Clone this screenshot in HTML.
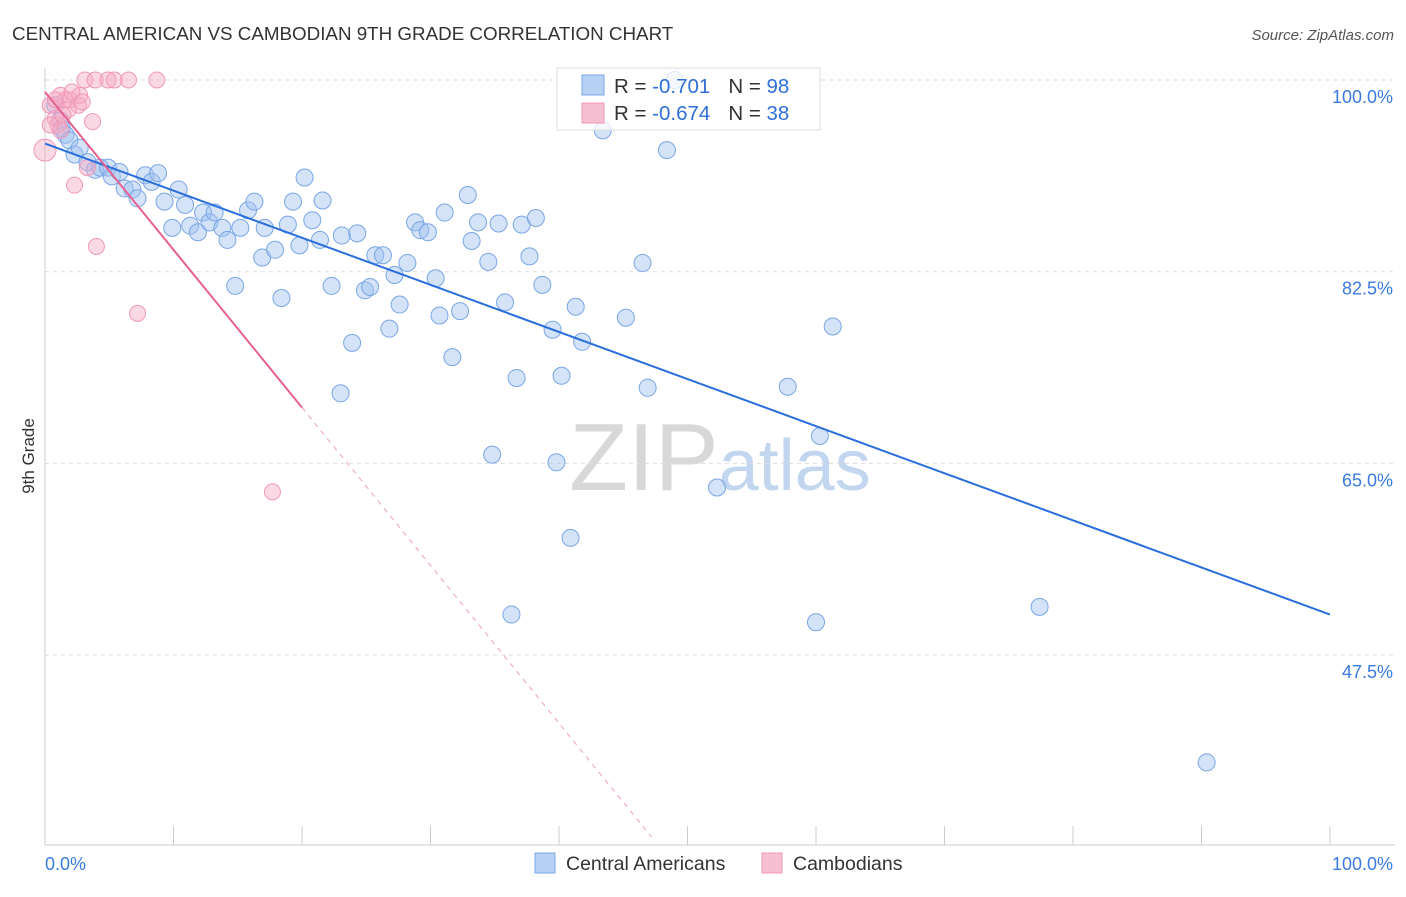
<!DOCTYPE html>
<html><head><meta charset="utf-8"><style>
body{margin:0;background:#fff;font-family:"Liberation Sans",sans-serif;}
svg text{font-family:"Liberation Sans",sans-serif;}
</style></head><body>
<svg id="chart" width="1406" height="892" xmlns="http://www.w3.org/2000/svg">
<text x="12" y="40" font-size="18.8" fill="#333">CENTRAL AMERICAN VS CAMBODIAN 9TH GRADE CORRELATION CHART</text>
<text x="1394" y="40" font-size="15" fill="#555" font-style="italic" text-anchor="end">Source: ZipAtlas.com</text>
<text x="720" y="490" font-size="96" fill="#d8d8d8" text-anchor="middle" font-family="Liberation Serif">ZIP<tspan fill="#c2d6ef" font-family="Liberation Sans" font-size="72">atlas</tspan></text>
<text transform="translate(34,456) rotate(-90)" font-size="17" fill="#333" text-anchor="middle">9th Grade</text>
<g id="grid"></g><g id="pts"></g><g id="lines"></g>
<g>
<rect x="557" y="68" width="263" height="62" fill="rgba(255,255,255,0.75)" stroke="#ddd"/>
<rect x="582" y="75" width="22" height="20" fill="#b8d0f4" stroke="#7aa6e6"/>
<rect x="582" y="103" width="22" height="20" fill="#f6bfd2" stroke="#ef98b8"/>
<text x="614" y="93" font-size="20.5" fill="#333">R = <tspan fill="#2f6fd8">-0.701</tspan><tspan dx="18">N = </tspan><tspan fill="#2f6fd8">98</tspan></text>
<text x="614" y="120" font-size="20.5" fill="#333">R = <tspan fill="#2f6fd8">-0.674</tspan><tspan dx="18">N = </tspan><tspan fill="#2f6fd8">38</tspan></text>
</g>
<g>
<rect x="535" y="853" width="20" height="20" fill="#b8d0f4" stroke="#7aa6e6"/>
<text x="566" y="870" font-size="19.5" fill="#333">Central Americans</text>
<rect x="762" y="853" width="20" height="20" fill="#f6bfd2" stroke="#ef98b8"/>
<text x="793" y="870" font-size="19.5" fill="#333">Cambodians</text>
</g>
</svg>
<script>
const yTicks=[100,82.5,65,47.5];
const yTickLabels=["100.0%","82.5%","65.0%","47.5%"];
const xTickLabels=["0.0%","100.0%"];
const blueX=[0.8,1.2,1.3,1.6,1.9,2.3,2.7,3.3,3.9,4.3,4.9,5.2,5.8,6.2,6.8,7.2,7.8,8.3,8.8,9.3,9.9,10.4,10.9,11.3,11.9,12.3,12.8,13.2,13.8,14.2,14.8,15.2,15.8,16.3,16.9,17.1,17.9,18.4,18.9,19.3,19.8,20.2,20.8,21.4,21.6,22.3,23.1,23.9,24.3,23.0,24.9,25.3,25.7,26.3,26.8,27.2,27.6,28.2,28.8,29.2,29.8,30.4,30.7,31.1,31.7,32.3,32.9,33.2,33.7,34.5,34.8,35.3,35.8,36.3,36.7,37.1,37.7,38.2,38.7,39.5,39.8,40.2,40.9,41.3,41.8,43.4,45.2,46.5,46.9,48.4,52.3,57.8,60.0,60.3,61.3,77.4,90.4,49.0];
const blueY=[97.7,96.3,95.6,95.0,94.5,93.2,93.8,92.5,91.8,92.0,92.0,91.2,91.6,90.1,90.0,89.2,91.3,90.7,91.5,88.9,86.5,90.0,88.6,86.7,86.1,87.9,87.0,87.9,86.5,85.4,81.2,86.5,88.1,88.9,83.8,86.5,84.5,80.1,86.8,88.9,84.9,91.1,87.2,85.4,89.0,81.2,85.8,76.0,86.0,71.4,80.8,81.1,84.0,84.0,77.3,82.2,79.5,83.3,87.0,86.3,86.1,81.9,78.5,87.9,74.7,78.9,89.5,85.3,87.0,83.4,65.8,86.9,79.7,51.2,72.8,86.8,83.9,87.4,81.3,77.2,65.1,73.0,58.2,79.3,76.1,95.4,78.3,83.3,71.9,93.6,62.8,72.0,50.5,67.5,77.5,51.9,37.7,100];
const pinkX=[0,0.4,0.8,1.0,1.2,1.6,1.9,2.3,2.6,2.7,3.1,3.7,3.9,4.0,4.9,5.4,6.5,8.7,7.2,17.7,1.2,1.8,0.8,2.1,2.9,0.4,3.3,1.4];
const pinkY=[93.6,97.7,96.5,95.9,98.6,98.2,98.2,90.4,97.7,98.6,100,96.2,100,84.8,100,100,100,100,78.7,62.4,95.4,97.3,98.2,98.9,98.0,95.9,92.0,96.8];
const blueTrend=[[0,94.2],[100,51.2]];
const pinkTrend=[[0,98.9],[20,70.1]];
const pinkDash=[[20,70.1],[47.2,30.9]];
const NS="http://www.w3.org/2000/svg";
const sx=v=>45+v*12.85, sy=v=>80+(100-v)*10.954;
function mk(t,a,p){const e=document.createElementNS(NS,t);for(const k in a)e.setAttribute(k,a[k]);p.appendChild(e);return e;}
const grid=document.getElementById('grid');
yTicks.forEach((v,i)=>{
 const l=mk('line',{x1:45,x2:1395,y1:sy(v),y2:sy(v),stroke:'#ddd','stroke-dasharray':'4,4'},grid);
 
 
 const t=mk('text',{x:1393,y:sy(v)+23,'font-size':18,fill:'#3b7be0','text-anchor':'end'},grid);t.textContent=yTickLabels[i];
 
 
});
mk('line',{x1:45,x2:45,y1:68,y2:845,stroke:'#ccc'},grid);
mk('line',{x1:45,x2:1395,y1:845,y2:845,stroke:'#ccc'},grid);
for(let i=0;i<=10;i++){const t=mk('line',{x1:sx(i*10),x2:sx(i*10),y1:826,y2:845,stroke:'#ccc'},grid);
 
 }
[[0,'start',45],[100,'end',1393]].forEach((d,i)=>{const t=mk('text',{x:d[2],y:870,'font-size':18,fill:'#3b7be0','text-anchor':d[1]},grid);t.textContent=xTickLabels[i];
 
 });
const pts=document.getElementById('pts');
blueX.forEach((x,i)=>{const c=mk('circle',{cx:sx(x),cy:sy(blueY[i]),r:8.5,fill:'rgba(160,192,240,0.45)',stroke:'#7aa6e6','stroke-width':1},pts);
 
 });
pinkX.forEach((x,i)=>{const c=mk('circle',{cx:sx(x),cy:sy(pinkY[i]),r:i==0?11:8,fill:'rgba(246,170,196,0.45)',stroke:'#ef98b8','stroke-width':1},pts);
 
 });
const lines=document.getElementById('lines');
const b=mk('line',{x1:sx(blueTrend[0][0]),y1:sy(blueTrend[0][1]),x2:sx(blueTrend[1][0]),y2:sy(blueTrend[1][1]),stroke:'#2a6fdb','stroke-width':2},lines);


const p=mk('line',{x1:sx(pinkTrend[0][0]),y1:sy(pinkTrend[0][1]),x2:sx(pinkTrend[1][0]),y2:sy(pinkTrend[1][1]),stroke:'#e8608f','stroke-width':2},lines);


const pd=mk('line',{x1:sx(pinkDash[0][0]),y1:sy(pinkDash[0][1]),x2:sx(pinkDash[1][0]),y2:sy(pinkDash[1][1]),stroke:'#eba0b8','stroke-width':1,'stroke-dasharray':'5,5'},lines);


</script>
</body></html>
